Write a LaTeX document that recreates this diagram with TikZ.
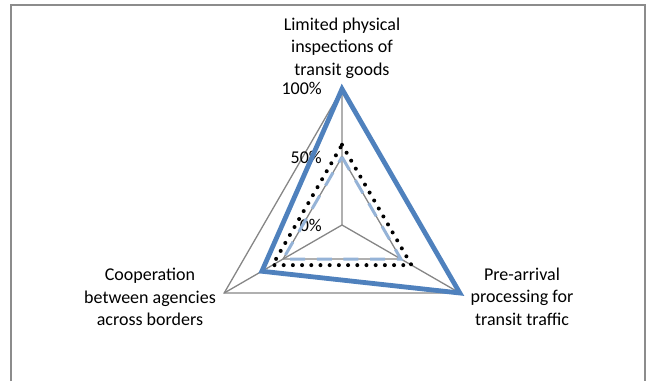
\documentclass[tikz,border=0pt]{standalone}
\usepackage{fontspec}
\setmainfont{Carlito}
\usepackage{tikz}
\usetikzlibrary{calc}
\definecolor{serblue}{HTML}{4F81BD}
\definecolor{serlight}{HTML}{95B3D7}
\definecolor{gridgray}{HTML}{868686}
\definecolor{framegray}{HTML}{8C8C8C}
\begin{document}
\begin{tikzpicture}[x=1pt, y=-1pt, line join=miter,
		grid/.style={draw=gridgray, line width=1.3pt},
		axlabel/.style={align=center, inner sep=0pt, font=\fontsize{18}{22.5}\selectfont},
		pct/.style={anchor=east, inner sep=0pt, font=\fontsize{18}{20}\selectfont},
		full/.style={draw=serblue, line width=4.8pt},
		half/.style={draw=serlight, line width=3pt, dash pattern=on 15pt off 11.7pt},
		dots/.style={draw=black, line width=4pt, line cap=round, dash pattern=on 0pt off 9.2pt}]
				\useasboundingbox (0,0) rectangle (649,381);
				\draw[framegray, line width=2pt] (11,381) -- (11,5) -- (645,5) -- (645,381);
				\coordinate (c) at (342,225);
				\coordinate (t) at (342,89);
				\coordinate (l) at (224.2,293);
				\coordinate (r) at (459.8,293);
				\draw[grid] (t) -- (l) -- (r) -- cycle;
				\draw[grid] (c) -- (t) (c) -- (l) (c) -- (r);
				\draw[grid] ($(c)!.5!(t)$) -- ($(c)!.5!(l)$) -- ($(c)!.5!(r)$) -- cycle;
				\node[axlabel] (lbltop) at (342,48) {Limited physical\\inspections of\\transit goods};
				\node[axlabel] (lblleft) at (150,297) {Cooperation\\between agencies\\across borders};
				\node[axlabel] (lblright) at (522,296.5) {Pre-arrival\\processing for\\transit traffic};
				\node[pct] (p100) at (322,88) {100\%};
				\node[pct] (p50) at (322,157) {50\%};
				\node[pct] (p0) at (322,225) {0\%};
				\draw[half] ($(c)!.5!(t)$) -- ($(c)!.5!(r)$) -- ($(c)!.5!(l)$) -- cycle;
				\draw[dots] ($(c)!.59!(t)$) -- ($(c)!.59!(r)$) -- ($(c)!.59!(l)$) -- cycle;
				\draw[full] (t) -- (r) -- ($(c)!.68!(l)$) -- cycle;
			\end{tikzpicture}
\end{document}
